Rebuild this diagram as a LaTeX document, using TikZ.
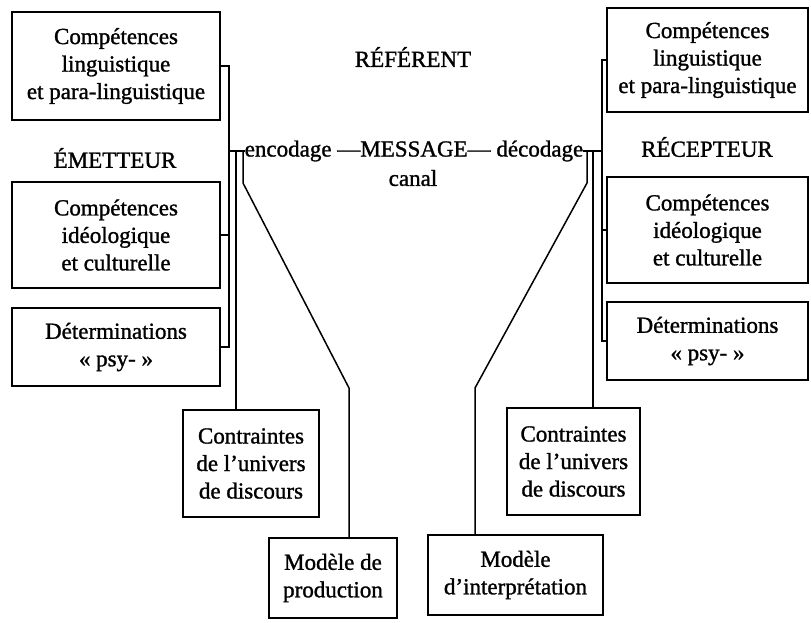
\documentclass[tikz,border=0pt]{standalone}
\usepackage{fontspec}
\setmainfont[FakeBold=1.2]{Liberation Serif}
\begin{document}
\begin{tikzpicture}[x=1pt,y=-1pt,
  every node/.style={font=\fontsize{23}{27.5}\selectfont},
  box/.style={draw,line width=1.6pt,rectangle,align=center,inner sep=0pt},
  link/.style={line width=1.5pt},
  lbl/.style={inner sep=0pt}]
\useasboundingbox (0,0) rectangle (811,622);
% left boxes
\node[box,minimum width=208pt,minimum height=108pt] (L1) at (116,66) {Compétences\\linguistique\\et para-linguistique};
\node[lbl] (emet) at (115,158) {ÉMETTEUR};
\node[box,minimum width=208pt,minimum height=106pt] (L2) at (116,235) {Compétences\\idéologique\\et culturelle};
\node[box,minimum width=208pt,minimum height=78pt] (L3) at (116,347) {Déterminations\\« psy- »};
\node[box,minimum width=136pt,minimum height=107pt] (LC) at (251,463.5) {Contraintes\\de l'univers\\de discours};
\node[box,minimum width=128pt,minimum height=80pt] (LM) at (333,578) {Modèle de\\production};
% right boxes
\node[box,minimum width=201pt,minimum height=104pt] (R1) at (707.5,60) {Compétences\\linguistique\\et para-linguistique};
\node[lbl] (recep) at (707,147) {RÉCEPTEUR};
\node[box,minimum width=201pt,minimum height=106pt] (R2) at (707.5,230) {Compétences\\idéologique\\et culturelle};
\node[box,minimum width=201pt,minimum height=78pt] (R3) at (707.5,341) {Déterminations\\« psy- »};
\node[box,minimum width=133pt,minimum height=107pt] (RC) at (573.5,461.5) {Contraintes\\de l'univers\\de discours};
\node[box,minimum width=175pt,minimum height=80pt] (RM) at (515.5,575) {Modèle\\d'interprétation};
% centre
\node[lbl] (ref) at (413,57) {RÉFÉRENT};
\node[lbl] (msg) at (414,151) {encodage —MESSAGE— décodage};
\node[lbl] (canal) at (413,178) {canal};
% coordinates
\coordinate (lb) at (229,151);
\coordinate (rb) at (602,151);
% left bracket
\draw[link] (L1.east) -- (L1.east -| lb) -- (L3.east -| lb) -- (L3.east);
\draw[link] (L2.east) -- (L2.east -| lb);
\draw[link] (lb) -- (msg.west);
\draw[link] (236,151) -- (LC.north -| 236,0);
\draw[link] (243,151) -- (243,183) -- (349,388) -- (LM.north -| 349,0);
% right bracket
\draw[link] (R1.west) -- (R1.west -| rb) -- (R3.west -| rb) -- (R3.west);
\draw[link] (R2.west) -- (R2.west -| rb);
\draw[link] (rb) -- (msg.east);
\draw[link] (593,151) -- (RC.north -| 593,0);
\draw[link] (587,151) -- (587,183) -- (475,388) -- (RM.north -| 475,0);
\end{tikzpicture}
\end{document}
